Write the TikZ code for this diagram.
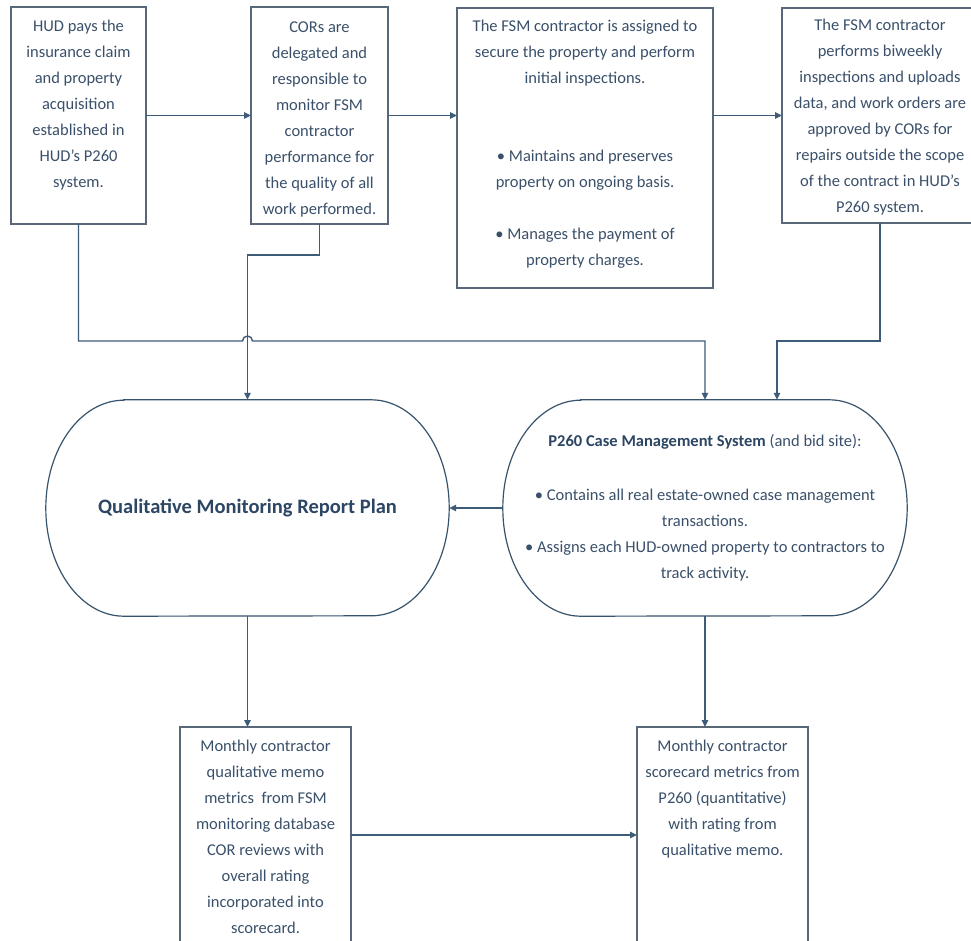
\documentclass[tikz,border=0pt]{standalone}
\usepackage{fontspec}
\setmainfont{Carlito}
\usetikzlibrary{arrows.meta,calc}
\definecolor{lineblue}{RGB}{62,92,120}
\definecolor{boxgray}{RGB}{88,104,120}
\definecolor{txtblue}{RGB}{58,80,106}
\definecolor{txtdark}{RGB}{44,70,100}
\newcommand{\tb}[4]{\parbox[c][#2][t]{#1}{\centering\fontsize{16.5}{26}\selectfont\rule{0pt}{#3}#4}}
\begin{document}
\begin{tikzpicture}[x=1pt,y=1pt,
  box/.style={draw=boxgray,line width=1.4pt,inner sep=0pt,outer sep=0pt,text=txtblue,fill=white},
  ovalnode/.style={inner sep=0pt,minimum width=#1,minimum height=216pt,text=txtblue,align=center},
  ovalline/.style={draw=lineblue!90!black,line width=1.2pt},
  conn/.style={draw=lineblue,line width=1.4pt,-{Triangle[length=7pt,width=6.5pt]}},
  plain/.style={draw=lineblue,line width=1.4pt}]
\useasboundingbox (0,0) rectangle (971,-941);
\fill[white] (0,0) rectangle (971,-941);

% top boxes
\node[box,anchor=north west] (b1) at (11,-7) {\tb{135pt}{217pt}{25pt}{HUD pays the\\insurance claim\\and property\\acquisition\\established in\\HUD's P260\\system.}};
\node[box,anchor=north west] (b2) at (251,-7) {\tb{137pt}{217pt}{26pt}{CORs are\\delegated and\\responsible to\\monitor FSM\\contractor\\performance for\\the quality of all\\work performed.}};
\node[box,anchor=north west] (b3) at (457,-8) {\tb{256pt}{280pt}{24pt}{The FSM contractor is assigned to\\secure the property and perform\\initial inspections.\\[52pt]\textbullet\ Maintains and preserves\\property on ongoing basis.\\[26pt]\textbullet\ Manages the payment of\\property charges.}};
\node[box,anchor=north west] (b4) at (782,-8) {\tb{196pt}{215pt}{23pt}{The FSM contractor\\performs biweekly\\inspections and uploads\\data, and work orders are\\approved by CORs for\\repairs outside the scope\\of the contract in HUD's\\P260 system.}};

% ovals
\node[ovalnode=403pt,text=txtdark,font=\fontsize{20.5}{24}\selectfont\bfseries] (q) at (247.5,-508) {Qualitative Monitoring Report Plan};
\node[ovalnode=404pt,font=\fontsize{16.5}{26}\selectfont] (p) at (705,-508) {{\bfseries\color{txtdark}P260 Case Management System} (and bid site):\\[28pt]\textbullet\ Contains all real estate-owned case management\\transactions.\\\textbullet\ Assigns each HUD-owned property to contractors to\\track activity.};
\foreach \n in {q,p}{
  \draw[ovalline] ([xshift=78pt]\n.north west) -- ([xshift=-78pt]\n.north east)
    arc[start angle=90,end angle=-90,x radius=78pt,y radius=108pt]
    -- ([xshift=78pt]\n.south west)
    arc[start angle=270,end angle=90,x radius=78pt,y radius=108pt] -- cycle;
}

% bottom boxes
\node[box,anchor=north west] (b5) at (180,-727) {\tb{171pt}{216pt}{24.5pt}{Monthly contractor\\qualitative memo\\metrics\ \ from FSM\\monitoring database\\COR reviews with\\overall rating\\incorporated into\\scorecard.}};
\node[box,anchor=north west] (b6) at (637,-727) {\tb{171pt}{216pt}{24.5pt}{Monthly contractor\\scorecard metrics from\\P260 (quantitative)\\with rating from\\qualitative memo.}};

% junction levels
\coordinate (j1) at (0,-341);
\coordinate (j2) at (0,-255);

% connectors
\draw[conn] (b1) -- (b2);
\draw[conn] (b2.east) -- (b2.east -| b3.west);
\draw[conn] (b3.east |- b4.west) -- (b4.west);
\draw[conn] (b1.south) -- (b1.south |- j1) -- ($(q.north |- j1)+(-5,0)$)
  arc[start angle=180,end angle=0,radius=5pt] -- (p.north |- j1) -- (p.north);
\draw[conn] (b2.south) -- (b2.south |- j2) -- (q.north |- j2) -- (q.north);
\draw[conn] (b4.south) -- (b4.south |- j1) -- ($(p.north |- j1)+(72,0)$) -- ($(p.north)+(72,0)$);
\draw[conn] (p.west) -- (q.east);
\draw[conn] (q.south) -- (q.south |- b5.north);
\draw[conn] (p.south) -- (p.south |- b6.north);
\draw[conn] (b5.east) -- (b6.west);
\end{tikzpicture}
\end{document}
